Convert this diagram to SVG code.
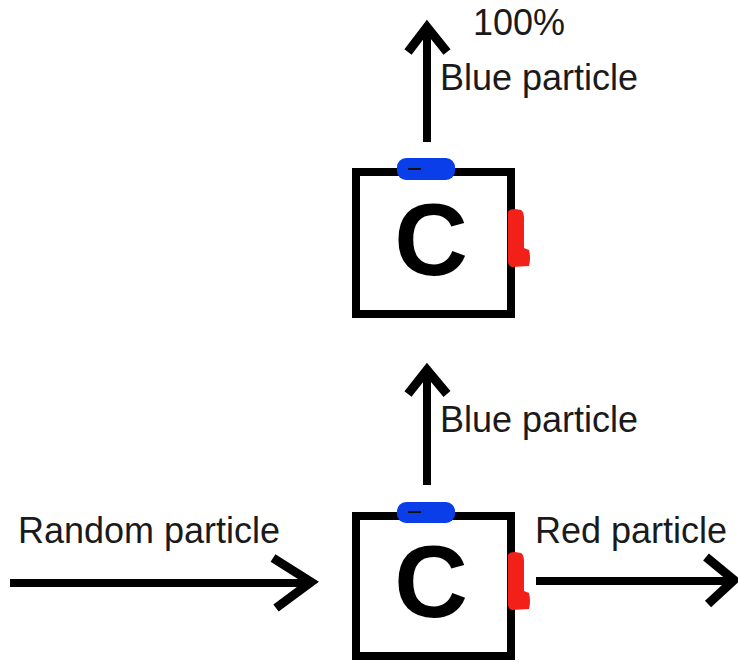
<svg xmlns="http://www.w3.org/2000/svg" width="738" height="662" viewBox="0 0 738 662">
<style>
.box{fill:#fff;stroke:#000;stroke-width:8}
.c{font-family:"Liberation Sans",Arial,sans-serif;font-weight:bold;font-size:102px;fill:#000;text-anchor:middle}
.lbl{font-family:"Liberation Sans",Arial,sans-serif;font-size:36px;fill:#1a1a1a}
.ln{fill:none;stroke:#000;stroke-width:8;stroke-linecap:butt}
.hd{fill:none;stroke:#000;stroke-width:9;stroke-linejoin:miter;stroke-linecap:butt}
.blue{fill:#0a3ee8}
.red{fill:#f22018}
</style>
<rect width="738" height="662" fill="#fff"/>
<g id="connectors">
<line class="ln" x1="427" y1="142" x2="427" y2="28"/>
<polyline class="hd" points="408,52 427,27 447,52"/>
<line class="ln" x1="427" y1="485" x2="427" y2="371"/>
<polyline class="hd" points="408,394 427,370 447,394"/>
<line class="ln" x1="10" y1="583" x2="310" y2="583"/>
<polyline class="hd" points="273,558 311,582 276,608"/>
<line class="ln" x1="536" y1="581" x2="732" y2="581"/>
<polyline class="hd" points="706,557 734,580 708,604"/>
</g>
<g id="node-top">
<rect class="box" x="356" y="172" width="155" height="142"/>
<text class="c" x="431" y="275">C</text>
<rect class="blue" x="397" y="158" width="58" height="22" rx="9"/>
<line x1="408" y1="169" x2="421" y2="169" stroke="#111" stroke-width="2"/>
<path class="red" d="M508,212 Q509,209 515,209 L521,210 Q524,212 524,218 L524,248 L529,250 Q531,258 529,266 L512,267 Q508,266 508,262 Z"/>
</g>
<g id="node-bottom">
<rect class="box" x="356" y="516" width="155" height="140"/>
<text class="c" x="431" y="617">C</text>
<rect class="blue" x="397" y="502" width="58" height="21" rx="9"/>
<line x1="408" y1="512" x2="421" y2="512" stroke="#111" stroke-width="2"/>
<path class="red" d="M508,555 Q509,552 515,552 L521,553 Q524,555 524,561 L524,591 L529,593 Q531,601 529,609 L512,610 Q508,609 508,605 Z"/>
</g>
<g id="labels">
<text class="lbl" x="473" y="35">100%</text>
<text class="lbl" x="440" y="90">Blue particle</text>
<text class="lbl" x="440" y="432">Blue particle</text>
<text class="lbl" x="18" y="543">Random particle</text>
<text class="lbl" x="535" y="543">Red particle</text>
</g>
</svg>
